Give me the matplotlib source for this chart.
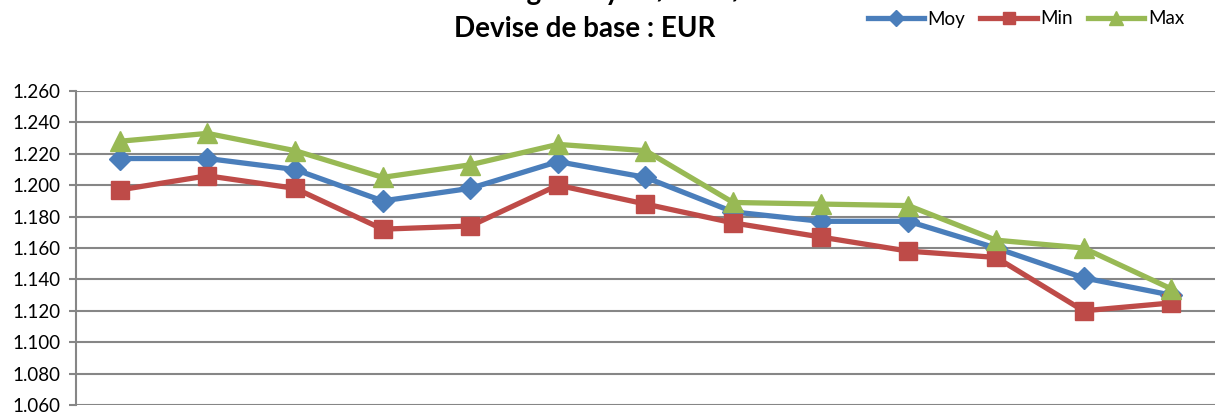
"""
Exchange rate chart: average / min / max per month, base currency EUR.
"""
import matplotlib.pyplot as plt

months = list(range(13))
moy = [1.217, 1.217, 1.210, 1.190, 1.198, 1.215, 1.205, 1.183, 1.177, 1.177, 1.160, 1.141, 1.130]
mini = [1.197, 1.206, 1.198, 1.172, 1.174, 1.200, 1.188, 1.176, 1.167, 1.158, 1.154, 1.120, 1.125]
maxi = [1.228, 1.233, 1.222, 1.205, 1.213, 1.226, 1.222, 1.189, 1.188, 1.187, 1.165, 1.160, 1.134]
y_ticks = [1.060, 1.080, 1.100, 1.120, 1.140, 1.160, 1.180, 1.200, 1.220, 1.240, 1.260]

plt.rcParams['font.family'] = ['Lato', 'DejaVu Sans']

fig = plt.figure(figsize=(12.25, 4.12), dpi=100)
ax = fig.add_axes([76 / 1225, 1 - 405 / 412, (1215 - 76) / 1225, (405 - 91) / 412])

# Series (Excel 2007 palette)
ax.plot(months, moy, marker='D', markersize=11, linewidth=3.8, color='#4A7EBB', label='Moy')
ax.plot(months, mini, marker='s', markersize=13, linewidth=3.8, color='#BE4B48', label='Min')
ax.plot(months, maxi, marker='^', markersize=14, linewidth=3.8, color='#98B954', label='Max')

ax.set_xlim(-0.5, 12.5)
ax.set_ylim(1.060, 1.260)
ax.set_yticks(y_ticks)
ax.set_yticklabels([f'{v:.3f}' for v in y_ticks], fontsize=13.5)
ax.set_xticks([])
ax.grid(True, axis='y', color='#868686', linewidth=1.5)
ax.set_axisbelow(True)
ax.tick_params(axis='y', length=5, width=1.5, color='#868686', pad=6)
for side in ['top', 'right', 'bottom']:
    ax.spines[side].set_visible(False)
ax.spines['left'].set_color('#868686')
ax.spines['left'].set_linewidth(1.5)

# Title (first line is cut off at the top in the original)
fig.text(585 / 1225, 1 + 8 / 412, 'Taux de change Moyen / Min / Max', ha='center', va='center',
         fontsize=20, fontweight='bold')
fig.text(585 / 1225, 1 - 29 / 412, 'Devise de base : EUR', ha='center', va='center',
         fontsize=20, fontweight='bold')

fig.legend(loc='center', bbox_to_anchor=(1026 / 1225, 1 - 19 / 412), ncol=3, frameon=False,
           fontsize=13.5, handlelength=3.0, columnspacing=0.8, handletextpad=0.2, markerscale=0.7)

plt.savefig('out.png')
plt.close()
